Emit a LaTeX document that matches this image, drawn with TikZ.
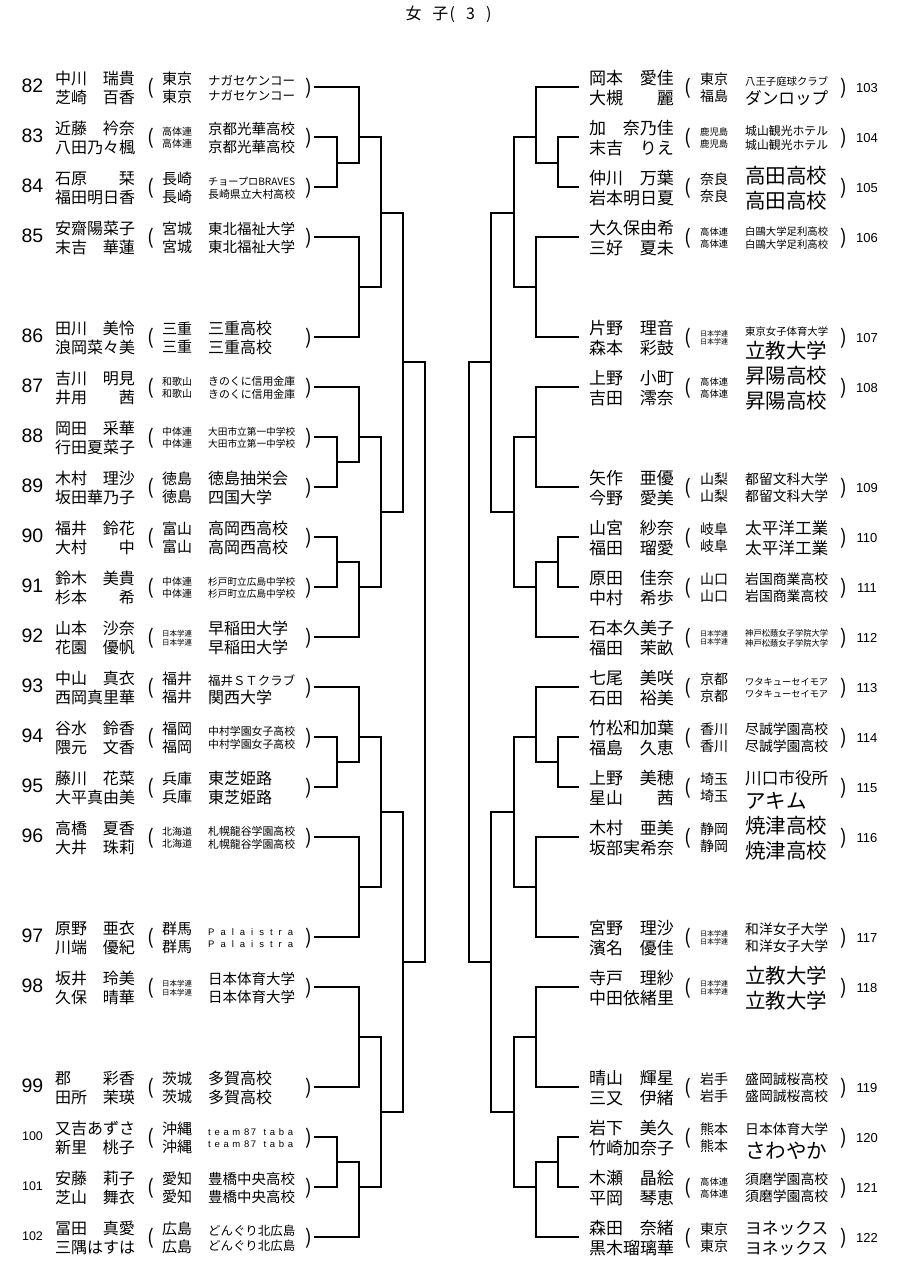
\documentclass[tikz,border=0pt]{standalone}
\usepackage{fontspec}
\newfontfamily\jp{Noto Sans CJK JP}
\newfontfamily\lat{Liberation Sans}
\tikzset{
  br/.style={line width=1.2pt, line join=miter},
  paren/.style={inner sep=0pt, font=\jp\fontsize{20}{20}\selectfont},
  numL/.style={inner sep=0pt, font=\lat\fontsize{19.5}{19.5}\selectfont},
  numS/.style={inner sep=0pt, font=\lat\fontsize{12.5}{12.5}\selectfont},
  numR/.style={inner sep=0pt, font=\lat\fontsize{13}{13}\selectfont},
}
\newsavebox\fitbx
% \fitrow{sign}{basesize}{maxwidth}{text}  (typeset inside a node)
\newcommand\fitrow[4]{%
  \sbox\fitbx{\jp\fontsize{#2}{#2}\selectfont #4}%
  \edef\wdv{\the\wd\fitbx}%
  \ifdim\wd\fitbx>0.5pt
    \pgfmathsetmacro\effs{min(#2,#2*#3/\wdv)}%
    \pgfmathsetmacro\rz{(0-(0#10.6)-0.38)*\effs}%
    \raisebox{\rz pt}{\jp\fontsize{\effs}{\effs}\selectfont #4}%
  \fi}
% \ftext[anchor]{name}{x}{liney}{sign}{basesize}{maxwidth}{text}
\newcommand\ftext[8][west]{%
  \node[anchor=base #1,inner sep=0pt] (#2) at (#3,#4+1) {\fitrow{#5}{#6}{#7}{#8}};}
\def\clubL{16}
\def\clubR{20.5}
\newcommand\entL[6]{%
  \expandafter\xdef\csname yy#1\endcsname{#2}%
  \coordinate (e#1) at (314,#2);
  \ifnum#1>99 \node[numS] (s#1) at (32.5,#2-1) {#1};\else \node[numL] (s#1) at (32.5,#2-1) {#1};\fi
  \ftext{na#1}{55}{#2}{-}{16}{200}{#3}%
  \ftext[east]{ga#1}{135}{#2}{-}{16}{200}{#4}%
  \ftext{nb#1}{55}{#2}{+}{16}{200}{#5}%
  \ftext[east]{gb#1}{135}{#2}{+}{16}{200}{#6}%
  \node[paren] (po#1) at (150.5,#2+1.5) {(};
  \node[paren] (pc#1) at (309,#2+1.5) {)};
}
\newcommand\affL[5]{%
  \edef\yb{\csname yy#1\endcsname}%
  \ftext{pa#1}{162}{\yb}{-}{15}{30}{#2}%
  \ftext{pb#1}{162}{\yb}{+}{15}{30}{#3}%
  \ftext{ka#1}{208}{\yb}{-}{\clubL}{87}{#4}%
  \ftext{kb#1}{208}{\yb}{+}{\clubL}{87}{#5}%
}
\newcommand\entR[6]{%
  \expandafter\xdef\csname yy#1\endcsname{#2}%
  \coordinate (e#1) at (579,#2);
  \node[numR] (s#1) at (867,#2+1) {#1};
  \ftext{na#1}{589}{#2}{-}{17}{200}{#3}%
  \ftext[east]{ga#1}{674}{#2}{-}{17}{200}{#4}%
  \ftext{nb#1}{589}{#2}{+}{17}{200}{#5}%
  \ftext[east]{gb#1}{674}{#2}{+}{17}{200}{#6}%
  \node[paren] (po#1) at (688,#2+1.5) {(};
  \node[paren] (pc#1) at (844,#2+1.5) {)};
}
\newcommand\affR[5]{%
  \edef\yb{\csname yy#1\endcsname}%
  \ftext{pa#1}{700}{\yb}{-}{14}{28}{#2}%
  \ftext{pb#1}{700}{\yb}{+}{14}{28}{#3}%
  \ftext{ka#1}{745}{\yb}{-}{\clubR}{83}{#4}%
  \ftext{kb#1}{745}{\yb}{+}{\clubR}{83}{#5}%
}
% \brmatch{A}{B}{column}{out}{outy}
\newcommand\brmatch[5]{%
  \draw[br] (#1) -- (#1 -| #3) -- (#2 -| #3) -- (#2);
  \coordinate (#4) at (#3 |- 0,#5);
}
\newcommand\spreadtxt[1]{\makebox[85pt][s]{\lat\fontsize{9.5}{9.5}\selectfont #1}}
\begin{document}
\begin{tikzpicture}[x=1pt,y=-1pt]
\useasboundingbox (0,0) rectangle (911,1284);
\fill[white] (0,0) rectangle (911,1284);

\node[inner sep=0pt,font=\jp\fontsize{16}{16}\selectfont] (title) at (448.5,14) {女\hspace{11pt}子\hspace{1pt}\makebox[42pt][s]{(\hfill 3\hfill )}};

% ---------- left entries ----------
\entL{82}{87}{中川}{瑞貴}{芝崎}{百香}
\affL{82}{東京}{東京}{ナガセケンコー}{ナガセケンコー}
\entL{83}{137}{近藤}{衿奈}{八田乃々楓}{}
\affL{83}{高体連}{高体連}{京都光華高校}{京都光華高校}
\entL{84}{187}{石原}{栞}{福田明日香}{}
\affL{84}{長崎}{長崎}{チョープロBRAVES}{長崎県立大村高校}
\entL{85}{237}{安齋陽菜子}{}{末吉}{華蓮}
\affL{85}{宮城}{宮城}{東北福祉大学}{東北福祉大学}
\entL{86}{337}{田川}{美怜}{浪岡菜々美}{}
\affL{86}{三重}{三重}{三重高校}{三重高校}
\entL{87}{387}{吉川}{明見}{井用}{茜}
\affL{87}{和歌山}{和歌山}{きのくに信用金庫}{きのくに信用金庫}
\entL{88}{437}{岡田}{采華}{行田夏菜子}{}
\affL{88}{中体連}{中体連}{大田市立第一中学校}{大田市立第一中学校}
\entL{89}{487}{木村}{理沙}{坂田華乃子}{}
\affL{89}{徳島}{徳島}{徳島抽栄会}{四国大学}
\entL{90}{537}{福井}{鈴花}{大村}{中}
\affL{90}{富山}{富山}{高岡西高校}{高岡西高校}
\entL{91}{587}{鈴木}{美貴}{杉本}{希}
\affL{91}{中体連}{中体連}{杉戸町立広島中学校}{杉戸町立広島中学校}
\entL{92}{637}{山本}{沙奈}{花園}{優帆}
\affL{92}{日本学連}{日本学連}{早稲田大学}{早稲田大学}
\entL{93}{687}{中山}{真衣}{西岡真里華}{}
\affL{93}{福井}{福井}{福井ＳＴクラブ}{関西大学}
\entL{94}{737}{谷水}{鈴香}{隈元}{文香}
\affL{94}{福岡}{福岡}{中村学園女子高校}{中村学園女子高校}
\entL{95}{787}{藤川}{花菜}{大平真由美}{}
\affL{95}{兵庫}{兵庫}{東芝姫路}{東芝姫路}
\entL{96}{837}{高橋}{夏香}{大井}{珠莉}
\affL{96}{北海道}{北海道}{札幌龍谷学園高校}{札幌龍谷学園高校}
\entL{97}{937}{原野}{亜衣}{川端}{優紀}
{\def\clubL{9.5}\affL{97}{群馬}{群馬}{\spreadtxt{P\hfill a\hfill l\hfill a\hfill i\hfill s\hfill t\hfill r\hfill a}}{\spreadtxt{P\hfill a\hfill l\hfill a\hfill i\hfill s\hfill t\hfill r\hfill a}}}
\entL{98}{987}{坂井}{玲美}{久保}{晴華}
\affL{98}{日本学連}{日本学連}{日本体育大学}{日本体育大学}
\entL{99}{1087}{郡}{彩香}{田所}{茉瑛}
\affL{99}{茨城}{茨城}{多賀高校}{多賀高校}
\entL{100}{1137}{又吉あずさ}{}{新里}{桃子}
{\def\clubL{9.5}\affL{100}{沖縄}{沖縄}{\spreadtxt{t\hfill e\hfill a\hfill m\hfill 8\,7\hfill\hfill t\hfill a\hfill b\hfill a}}{\spreadtxt{t\hfill e\hfill a\hfill m\hfill 8\,7\hfill\hfill t\hfill a\hfill b\hfill a}}}
\entL{101}{1187}{安藤}{莉子}{芝山}{舞衣}
\affL{101}{愛知}{愛知}{豊橋中央高校}{豊橋中央高校}
\entL{102}{1237}{冨田}{真愛}{三隅はすは}{}
\affL{102}{広島}{広島}{どんぐり北広島}{どんぐり北広島}

% ---------- right entries ----------
\entR{103}{87}{岡本}{愛佳}{大槻}{麗}
\affR{103}{東京}{福島}{八王子庭球クラブ}{ダンロップ}
\entR{104}{137}{加}{奈乃佳}{末吉}{りえ}
\affR{104}{鹿児島}{鹿児島}{城山観光ホテル}{城山観光ホテル}
\entR{105}{187}{仲川}{万葉}{岩本明日夏}{}
\affR{105}{奈良}{奈良}{高田高校}{高田高校}
\entR{106}{237}{大久保由希}{}{三好}{夏未}
\affR{106}{高体連}{高体連}{白鷗大学足利高校}{白鷗大学足利高校}
\entR{107}{337}{片野}{理音}{森本}{彩鼓}
\affR{107}{日本学連}{日本学連}{東京女子体育大学}{立教大学}
\entR{108}{387}{上野}{小町}{吉田}{澪奈}
\affR{108}{高体連}{高体連}{昇陽高校}{昇陽高校}
\entR{109}{487}{矢作}{亜優}{今野}{愛美}
\affR{109}{山梨}{山梨}{都留文科大学}{都留文科大学}
\entR{110}{537}{山宮}{紗奈}{福田}{瑠愛}
\affR{110}{岐阜}{岐阜}{太平洋工業}{太平洋工業}
\entR{111}{587}{原田}{佳奈}{中村}{希歩}
\affR{111}{山口}{山口}{岩国商業高校}{岩国商業高校}
\entR{112}{637}{石本久美子}{}{福田}{茉畝}
\affR{112}{日本学連}{日本学連}{神戸松蔭女子学院大学}{神戸松蔭女子学院大学}
\entR{113}{687}{七尾}{美咲}{石田}{裕美}
\affR{113}{京都}{京都}{ワタキューセイモア}{ワタキューセイモア}
\entR{114}{737}{竹松和加葉}{}{福島}{久恵}
\affR{114}{香川}{香川}{尽誠学園高校}{尽誠学園高校}
\entR{115}{787}{上野}{美穂}{星山}{茜}
\affR{115}{埼玉}{埼玉}{川口市役所}{アキム}
\entR{116}{837}{木村}{亜美}{坂部実希奈}{}
\affR{116}{静岡}{静岡}{焼津高校}{焼津高校}
\entR{117}{937}{宮野}{理沙}{濱名}{優佳}
\affR{117}{日本学連}{日本学連}{和洋女子大学}{和洋女子大学}
\entR{118}{987}{寺戸}{理紗}{中田依緒里}{}
\affR{118}{日本学連}{日本学連}{立教大学}{立教大学}
\entR{119}{1087}{晴山}{輝星}{三又}{伊緒}
\affR{119}{岩手}{岩手}{盛岡誠桜高校}{盛岡誠桜高校}
\entR{120}{1137}{岩下}{美久}{竹崎加奈子}{}
\affR{120}{熊本}{熊本}{日本体育大学}{さわやか}
\entR{121}{1187}{木瀬}{晶絵}{平岡}{琴恵}
\affR{121}{高体連}{高体連}{須磨学園高校}{須磨学園高校}
\entR{122}{1237}{森田}{奈緒}{黒木瑠璃華}{}
\affR{122}{東京}{東京}{ヨネックス}{ヨネックス}

% ---------- bracket columns ----------
\coordinate (L1) at (337,0);
\coordinate (L2) at (359,0);
\coordinate (L3) at (381,0);
\coordinate (L4) at (403,0);
\coordinate (L5) at (425,0);
\coordinate (R1) at (558,0);
\coordinate (R2) at (536,0);
\coordinate (R3) at (514,0);
\coordinate (R4) at (491,0);
\coordinate (R5) at (469,0);

% ---------- left bracket ----------
\brmatch{e83}{e84}{L1}{la}{163}
\brmatch{e82}{la}{L2}{lb}{137}
\brmatch{e85}{e86}{L2}{lc}{287}
\brmatch{lb}{lc}{L3}{ld}{213}
\brmatch{e88}{e89}{L1}{le}{462}
\brmatch{e87}{le}{L2}{lf}{437}
\brmatch{e90}{e91}{L1}{lg}{562}
\brmatch{lg}{e92}{L2}{lh}{587}
\brmatch{lf}{lh}{L3}{li}{512}
\brmatch{ld}{li}{L4}{lj}{362}
\brmatch{e94}{e95}{L1}{lk}{762}
\brmatch{e93}{lk}{L2}{ll}{737}
\brmatch{e96}{e97}{L2}{lm}{887}
\brmatch{ll}{lm}{L3}{ln}{812}
\brmatch{e98}{e99}{L2}{lo}{1037}
\brmatch{e100}{e101}{L1}{lp}{1162}
\brmatch{lp}{e102}{L2}{lq}{1187}
\brmatch{lo}{lq}{L3}{lr}{1112}
\brmatch{ln}{lr}{L4}{ls}{962}
\brmatch{lj}{ls}{L5}{lt}{662}

% ---------- right bracket ----------
\brmatch{e104}{e105}{R1}{ra}{163}
\brmatch{e103}{ra}{R2}{rb}{137}
\brmatch{e106}{e107}{R2}{rc}{287}
\brmatch{rb}{rc}{R3}{rd}{213}
\brmatch{e108}{e109}{R2}{re}{437}
\brmatch{e110}{e111}{R1}{rf}{562}
\brmatch{rf}{e112}{R2}{rg}{587}
\brmatch{re}{rg}{R3}{rh}{512}
\brmatch{rd}{rh}{R4}{ri}{362}
\brmatch{e114}{e115}{R1}{rj}{762}
\brmatch{e113}{rj}{R2}{rk}{737}
\brmatch{e116}{e117}{R2}{rl}{887}
\brmatch{rk}{rl}{R3}{rm}{812}
\brmatch{e118}{e119}{R2}{rn}{1037}
\brmatch{e120}{e121}{R1}{ro}{1162}
\brmatch{ro}{e122}{R2}{rp}{1187}
\brmatch{rn}{rp}{R3}{rq}{1112}
\brmatch{rm}{rq}{R4}{rr}{962}
\brmatch{ri}{rr}{R5}{rs}{662}
\end{tikzpicture}
\end{document}
